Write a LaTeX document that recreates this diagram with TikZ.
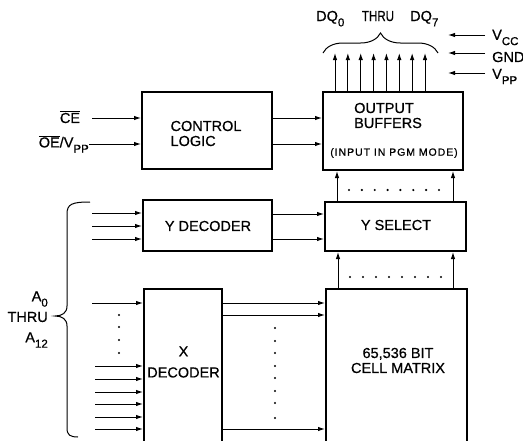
\documentclass[tikz,border=0pt]{standalone}
\usepackage{fontspec}
\setmainfont[FakeBold=0.6]{Liberation Sans}
\newfontfamily\widefont[LetterSpace=9,FakeBold=0.6]{Liberation Sans}
\usetikzlibrary{arrows.meta,calc,decorations.pathreplacing}
\newcommand\lsub[1]{\raisebox{-0.7ex}{\fontsize{11.5}{12}\selectfont #1}}
\begin{document}
\begin{tikzpicture}[x=1pt,y=-1pt,
  blk/.style={draw,line width=2pt,inner sep=0pt},
  txt/.style={font=\fontsize{14.5}{15}\selectfont,inner sep=0pt,align=center},
  stxt/.style={font=\fontsize{14.5}{15}\selectfont,inner sep=0pt},
  sig/.style={line width=1pt,-{Latex[length=7pt,width=4.5pt]}},
  brc/.style={line width=1pt}]
\clip (0,0) rectangle (523,440);
\fill[white] (0,0) rectangle (523,440);

% blocks
\node[blk,minimum width=130pt,minimum height=77pt] (ctl) at (207,130.5) {};
\node[blk,minimum width=140pt,minimum height=78pt] (ob) at (393,131) {};
\node[blk,minimum width=129pt,minimum height=51pt] (yd) at (207.5,225.5) {};
\node[blk,minimum width=141pt,minimum height=49pt] (ys) at (395.5,226.5) {};
\node[blk,minimum width=78pt,minimum height=156pt] (xd) at (183,367) {};
\node[blk,minimum width=141pt,minimum height=156pt] (mx) at (396.5,367) {};

% block texts
\node[txt,align=left] (ctlt) at (206,133.5) {CONTROL\\LOGIC};
\node[txt,align=left,anchor=west] (obt) at (354,115.5) {OUTPUT\\BUFFERS};
\node[inner sep=0pt,font=\widefont\fontsize{10.5}{12}\selectfont] (pgm) at (394,153) {(INPUT IN PGM MODE)};
\node[txt] (ydt) at (208,226) {Y DECODER};
\node[txt] (yst) at (396,225) {Y SELECT};
\node[txt] (mxt) at (398,360.5) {65,536 BIT\\CELL MATRIX};
\node[txt] (xdt) at (183.5,362) {X\\[6pt]DECODER};

% control inputs
\node[txt] (ce) at (70,117) {$\overline{\mbox{CE}}$};
\node[txt,anchor=east] (oe) at (89,144) {$\overline{\mbox{OE}}$/V\lsub{PP}};
\coordinate (cein) at (92,118);
\draw[sig] (cein) -- (cein -| ctl.west);
\draw[sig] (oe.east |- 0,144) -- (ctl.west |- 0,144);

% control -> output buffers
\coordinate (r1) at (0,118);
\coordinate (r2) at (0,144);
\draw[sig] (ctl.east |- r1) -- (ob.west |- r1);
\draw[sig] (ctl.east |- r2) -- (ob.west |- r2);

% DQ outputs
\foreach \i in {0,...,7} {
  \coordinate (dq\i) at ({335+12.86*\i},0);
  \draw[sig] (ob.north -| dq\i) -- ++(0,-38);
}
\draw[brc,decorate,decoration={brace,amplitude=20pt}] (323,53) -- (438,53);
\node[stxt,anchor=base west] (dq0l) at (316,21) {DQ\lsub{0}};
\node[stxt,anchor=base] (thru1) at (378,21) {\scalebox{0.8}[1]{THRU}};
\node[stxt,anchor=base west] (dq7l) at (410,21) {DQ\lsub{7}};

% supplies
\node[txt,anchor=west] (vcc) at (492,37.5) {V\lsub{CC}};
\node[txt,anchor=west] (gnd) at (492,57) {GND};
\node[txt,anchor=west] (vpp) at (492,76.5) {V\lsub{PP}};
\foreach \n/\yy in {vcc/35,gnd/53,vpp/73} {
  \coordinate (s\n) at (485,\yy);
  \draw[sig] (s\n) -- ++(-37,0);
}

% Y select -> output buffers
\coordinate (c1) at (337,0);
\coordinate (c2) at (453,0);
\draw[sig] (ys.north -| c1) -- (ob.south -| c1);
\draw[sig] (ys.north -| c2) -- (ob.south -| c2);
\foreach \i in {0,...,7} \fill ({349+12.86*\i},190) circle (1.2pt);

% matrix -> Y select
\coordinate (c3) at (338,0);
\draw[sig] (mx.north -| c3) -- (ys.south -| c3);
\draw[sig] (mx.north -| c2) -- (ys.south -| c2);
\foreach \i in {0,...,7} \fill ({350+13*\i},277) circle (1.2pt);

% Y decoder -> Y select
\coordinate (r3) at (0,214);
\coordinate (r4) at (0,239);
\draw[sig] (yd.east |- r3) -- (ys.west |- r3);
\draw[sig] (yd.east |- r4) -- (ys.west |- r4);

% address inputs to Y decoder
\foreach \yy in {213,226,239} {
  \coordinate (ya) at (92,\yy);
  \draw[sig] (ya) -- (ya -| yd.west);
}

% address inputs to X decoder
\coordinate (xa0) at (92,303);
\draw[sig] (xa0) -- (xa0 -| xd.west);
\foreach \yy in {315,327,340,353} \fill (119,\yy) circle (1.2pt);
\foreach \yy in {366,379,392,404,417,429} {
  \coordinate (xa) at (95,\yy);
  \draw[sig] (xa) -- (xa -| xd.west);
}

% X decoder -> matrix
\foreach \yy in {303,315,429} {
  \coordinate (xr) at (0,\yy);
  \draw[sig] (xd.east |- xr) -- (mx.west |- xr);
}
\foreach \yy in {328,341,353,366,378,391,403,418} \fill (275,\yy) circle (1.2pt);

% left brace
\draw[brc] (90,202) .. controls (72,202) and (67,204) .. (67,214) -- (67,306)
  .. controls (67,313) and (62,316) .. (55,316)
  .. controls (62,316) and (67,319) .. (67,326) -- (67,428)
  .. controls (67,435) and (70,437) .. (78,437);
\node[txt,anchor=east] (a0) at (48,299) {A\lsub{0}};
\node[txt,anchor=east] (thru2) at (48,317) {THRU};
\node[txt,anchor=east] (a12) at (48,340) {A\lsub{12}};
\end{tikzpicture}
\end{document}
